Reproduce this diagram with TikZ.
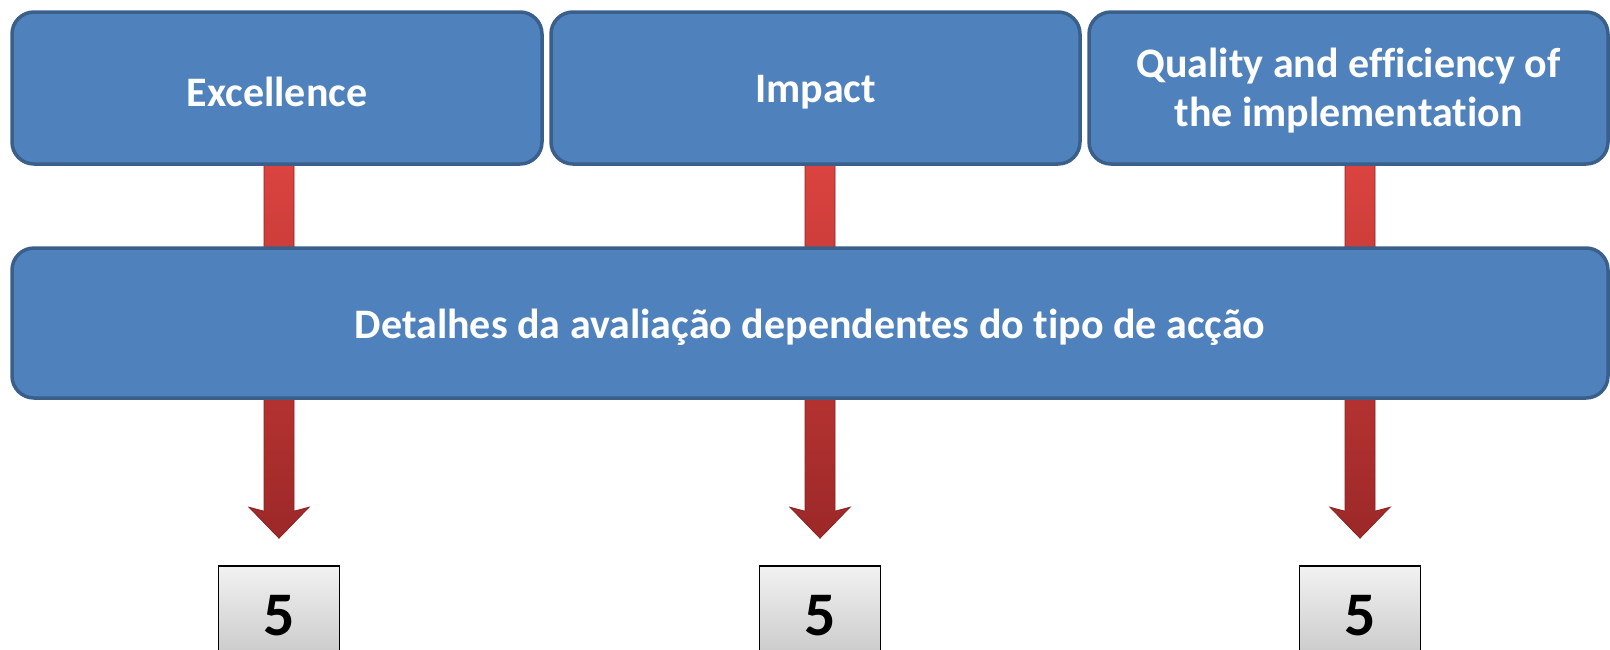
\documentclass[tikz,border=0pt]{standalone}
\usepackage{fontspec}
\setmainfont{Carlito}[Ligatures=NoCommon]
\usetikzlibrary{calc}
\definecolor{boxfill}{HTML}{4F81BD}
\definecolor{boxborder}{HTML}{3A5F8B}
\definecolor{arrtop}{HTML}{DC4440}
\definecolor{arrbot}{HTML}{9C2828}
\definecolor{arredge}{HTML}{8A2222}
\definecolor{numtop}{HTML}{F2F2F2}
\definecolor{numbot}{HTML}{C6C6C6}
\newcommand{\lowered}[1]{\raisebox{-4pt}[\height][\depth]{#1}}
\tikzset{
  bluebox/.style={draw=boxborder, line width=3.5pt, fill=boxfill, rounded corners=22pt,
    text=white, font=\bfseries\fontsize{42}{49}\selectfont, align=center, inner sep=0pt},
  numbox/.style={draw=black, line width=1.6pt, top color=numtop, bottom color=numbot,
    font=\bfseries\fontsize{62}{66}\selectfont, inner sep=0pt,
    minimum width=121pt, minimum height=100pt},
  redarrow/.style={top color=arrtop, bottom color=arrbot, draw=arredge, line width=0.8pt}
}
\begin{document}
\begin{tikzpicture}[x=1pt,y=-1pt]
\useasboundingbox (0,0) rectangle (1610,649);
% number boxes
\node[numbox] (n1) at (279,616) {5};
\node[numbox] (n2) at (820,616) {5};
\node[numbox] (n3) at (1360,616) {5};
% arrow tips
\coordinate (t1) at ($(n1.north)+(0,-27)$);
\coordinate (t2) at ($(n2.north)+(0,-27)$);
\coordinate (t3) at ($(n3.north)+(0,-27)$);
% arrows (drawn behind boxes)
\foreach \t in {t1,t2,t3}{
  \path[redarrow] ($(\t)+(-15,-380)$) -- ($(\t)+(-15,-27)$) -- ($(\t)+(-30,-31)$) --
    (\t) -- ($(\t)+(30,-31)$) -- ($(\t)+(15,-27)$) -- ($(\t)+(15,-380)$) -- cycle;
}
% top boxes
\node[bluebox, minimum width=530pt, minimum height=152pt] (e) at (277,88) {\lowered{Excellence}};
\node[bluebox, minimum width=529pt, minimum height=152pt] (i) at (815.5,88) {\lowered{Impact}};
\node[bluebox, minimum width=519pt, minimum height=152pt] (q) at (1348.5,88)
  {\lowered{\begin{tabular}{@{}c@{}}Quality and efficiency of\\the implementation\end{tabular}}};
% middle box
\node[bluebox, minimum width=1596pt, minimum height=150pt] (d) at (810,323) {\lowered{Detalhes da avaliação dependentes do tipo de acção}};
\end{tikzpicture}
\end{document}
